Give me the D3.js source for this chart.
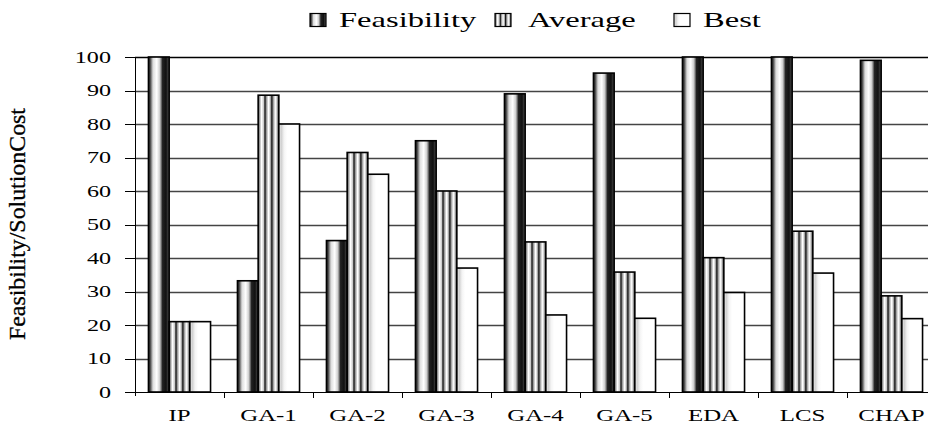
<!DOCTYPE html>
<html><head><meta charset="utf-8">
<script src="https://cdn.jsdelivr.net/npm/d3@7/dist/d3.min.js"></script>
<style>body{margin:0;background:#fff}svg{display:block}text{font-family:"Liberation Serif","Times New Roman",serif;fill:#000}</style>
</head><body><svg id="c" width="928" height="426"></svg>
<script>
const categories = ["IP","GA-1","GA-2","GA-3","GA-4","GA-5","EDA","LCS","CHAP"];
const seriesNames = ["Feasibility","Average","Best"];
const feasibility = [100, 33.2, 45.2, 75, 89, 95.2, 100, 100, 99];
const average = [21, 88.6, 71.5, 60, 44.8, 35.8, 40.1, 48, 28.7];
const best = [21, 80, 65, 37, 23, 22, 29.7, 35.5, 21.9];
const yTicks = [0,10,20,30,40,50,60,70,80,90,100];

const svg = d3.select("#c");
const defs = svg.append("defs");
function grad(id, stops){
  const g = defs.append("linearGradient").attr("id", id).attr("x1",0).attr("x2",1).attr("y1",0).attr("y2",0);
  stops.forEach(s => g.append("stop").attr("offset", s[0]).attr("stop-color", s[1]));
}
grad("gF", [[0,"#111"],[0.1,"#555"],[0.22,"#ddd"],[0.4,"#fff"],[0.55,"#ccc"],[0.68,"#222"],[0.85,"#111"],[1,"#555"]]);
grad("gA", [[0,"#111"],[0.07,"#999"],[0.16,"#fff"],[0.26,"#ccc"],[0.33,"#111"],[0.4,"#999"],[0.5,"#fff"],[0.58,"#ccc"],[0.66,"#111"],[0.73,"#999"],[0.83,"#fff"],[0.9,"#ccc"],[1,"#222"]]);
grad("gB", [[0,"#eee"],[0.12,"#d0d0d0"],[0.25,"#f4f4f4"],[0.4,"#fff"],[1,"#fff"]]);
const fills = ["url(#gF)","url(#gA)","url(#gB)"];
const data = [feasibility, average, best];

const x0 = 135, x1 = 936, yTop = 57, yBot = 392;
const x = d3.scaleBand().domain(categories).range([x0, x1]).paddingInner(0).paddingOuter(0);
const xs = d3.scaleBand().domain(seriesNames).range([0, x.bandwidth()]).paddingOuter(0.65).paddingInner(0);
const y = d3.scaleLinear().domain([0,100]).range([yBot, yTop]);
const SX = 1.42;

// gridlines
svg.append("g").selectAll("line").data(yTicks.filter(d=>d>0)).join("line")
  .attr("x1", x0).attr("x2", 928).attr("y1", d=>Math.round(y(d))+0.5).attr("y2", d=>Math.round(y(d))+0.5)
  .attr("stroke", d=> d===100 ? "#000" : "#444").attr("stroke-width", 1.3);

// bars
categories.forEach((c, i) => {
  seriesNames.forEach((s, j) => {
    const v = data[j][i];
    svg.append("rect")
      .attr("x", x(c) + xs(s)).attr("width", xs.bandwidth())
      .attr("y", y(v)).attr("height", y(0) - y(v))
      .attr("fill", fills[j]).attr("stroke", "#000").attr("stroke-width", 1.6);
  });
});

// y axis
const ya = svg.append("g");
ya.append("line").attr("x1", x0+0.5).attr("x2", x0+0.5).attr("y1", yTop).attr("y2", yBot+4).attr("stroke","#000");
ya.selectAll("line.t").data(yTicks).join("line").attr("class","t")
  .attr("x1", x0-10).attr("x2", x0).attr("y1", d=>Math.round(y(d))+0.5).attr("y2", d=>Math.round(y(d))+0.5).attr("stroke","#000");
ya.selectAll("text").data(yTicks).join("text")
  .attr("transform", d=>`translate(111,${y(d)+5.5}) scale(${SX},1)`)
  .attr("text-anchor","end").attr("font-size",17).text(d=>d);

// x axis
const xa = svg.append("g");
xa.append("line").attr("x1", x0).attr("x2", 928).attr("y1", yBot+0.5).attr("y2", yBot+0.5).attr("stroke","#000");
xa.selectAll("line.t").data(categories.slice(1)).join("line").attr("class","t")
  .attr("x1", d=>x(d)+0.5).attr("x2", d=>x(d)+0.5).attr("y1", yBot).attr("y2", yBot+6).attr("stroke","#000");
xa.selectAll("text").data(categories).join("text")
  .attr("transform", d=>`translate(${x(d)+x.bandwidth()/2},421) scale(${SX},1)`)
  .attr("text-anchor","middle").attr("font-size",17.5).text(d=>d);

// y title
svg.append("text").attr("transform","translate(25,224) rotate(-90)")
  .attr("text-anchor","middle").attr("font-size",23).attr("textLength",232).attr("lengthAdjust","spacingAndGlyphs")
  .attr("stroke","#000").attr("stroke-width",0.3)
  .text("Feasibility/SolutionCost");

// legend
const legIcon = [310, 495, 674];
const legText = [339, 528, 703];
const lg = svg.append("g");
seriesNames.forEach((s, j) => {
  lg.append("rect").attr("x", legIcon[j]).attr("y", 13.5).attr("width", 16).attr("height", 13)
    .attr("fill", fills[j]).attr("stroke","#000").attr("stroke-width",1.2);
  lg.append("text").attr("transform", `translate(${legText[j]},27) scale(1.55,1)`)
    .attr("font-size",21).text(s);
});
</script></body></html>
